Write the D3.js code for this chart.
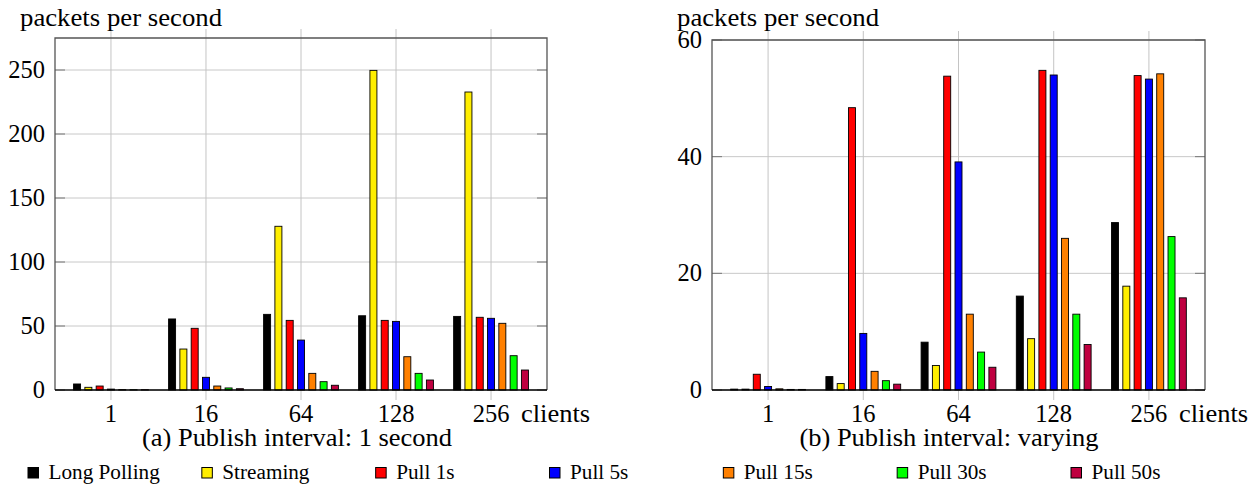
<!DOCTYPE html>
<html>
<head>
<meta charset="utf-8">
<script src="https://cdn.jsdelivr.net/npm/d3@7"></script>
<style>
  body { margin: 0; background: #fff; }
</style>
</head>
<body>
<svg id="chart" width="1259" height="485"></svg>
<script>
// categories and series
const groups = ['1', '16', '64', '128', '256'];
const seriesNames = ['Long Polling', 'Streaming', 'Pull 1s', 'Pull 5s', 'Pull 15s', 'Pull 30s', 'Pull 50s'];
const seriesColors = ['#000000', '#ffee00', '#ff0000', '#0000ff', '#ff8000', '#00ff00', '#bf0040'];

// (a) publish interval: 1 second
const longPollingA = [4.7, 55.5, 59.1, 58.0, 57.5];
const streamingA   = [2.1, 32.0, 127.9, 249.7, 232.8];
const pull1sA      = [3.1, 48.2, 54.4, 54.4, 56.8];
const pull5sA      = [0.7, 9.9, 39.0, 53.6, 56.0];
const pull15sA     = [0.3, 3.1, 13.0, 26.0, 52.1];
const pull30sA     = [0.2, 1.6, 6.5, 13.0, 26.8];
const pull50sA     = [0.2, 1.0, 3.7, 7.8, 15.6];

// (b) publish interval: varying
const longPollingB = [0.15, 2.3, 8.2, 16.1, 28.7];
const streamingB   = [0.15, 1.1, 4.2, 8.8, 17.8];
const pull1sB      = [2.7, 48.4, 53.8, 54.8, 53.9];
const pull5sB      = [0.6, 9.7, 39.1, 54.0, 53.3];
const pull15sB     = [0.2, 3.2, 13.0, 26.0, 54.2];
const pull30sB     = [0.1, 1.6, 6.5, 13.0, 26.3];
const pull50sB     = [0.1, 1.0, 3.9, 7.8, 15.8];

const ticksA = [0, 50, 100, 150, 200, 250];
const ticksB = [0, 20, 40, 60];

const FONT = '"Liberation Serif", "Times New Roman", serif';

const svg = d3.select('#chart');

// the original figure is a bit wider than tall, so widen the glyphs a little
function stretch(sel, k) {
    sel.style('font-family', FONT)
        .attr('fill', '#000');
    sel.each(function() {
        const len = this.getComputedTextLength();
        d3.select(this)
            .attr('textLength', len * k)
            .attr('lengthAdjust', 'spacingAndGlyphs');
    });
    return sel;
}

function drawPanel(opts) {
    const {left, right, top, bottom, yMax, yTicks, data, caption, captionX} = opts;
    const g = svg.append('g');

    const x = d3.scalePoint()
        .domain(groups)
        .range([left, right])
        .padding(0.589);

    const xInner = d3.scaleBand()
        .domain(seriesNames)
        .range([-37.4, 37.4])
        .paddingInner(0.38)
        .paddingOuter(0);

    const y = d3.scaleLinear()
        .domain([0, yMax])
        .range([bottom, top]);

    // horizontal grid
    g.selectAll('.hgrid')
        .data(yTicks)
        .enter().append('line')
        .attr('x1', left).attr('x2', right)
        .attr('y1', d => y(d)).attr('y2', d => y(d))
        .attr('stroke', '#c8c8c8')
        .attr('stroke-width', 1);

    // vertical grid + outside ticks top/bottom
    g.selectAll('.vgrid')
        .data(groups)
        .enter().append('line')
        .attr('x1', d => x(d)).attr('x2', d => x(d))
        .attr('y1', top - 9).attr('y2', bottom + 10)
        .attr('stroke', '#c4c4c4')
        .attr('stroke-width', 1);

    // y tick marks inside, both sides
    yTicks.forEach(t => {
        g.append('line')
            .attr('x1', left).attr('x2', left + 10)
            .attr('y1', y(t)).attr('y2', y(t))
            .attr('stroke', '#777').attr('stroke-width', 1);
        g.append('line')
            .attr('x1', right - 10).attr('x2', right)
            .attr('y1', y(t)).attr('y2', y(t))
            .attr('stroke', '#777').attr('stroke-width', 1);
    });

    // bars
    seriesNames.forEach((name, i) => {
        g.selectAll('.bar-' + i)
            .data(data[i])
            .enter().append('rect')
            .attr('x', (d, j) => x(groups[j]) + xInner(name))
            .attr('width', xInner.bandwidth())
            .attr('y', d => y(d))
            .attr('height', d => bottom - y(d))
            .attr('fill', seriesColors[i])
            .attr('stroke', '#000')
            .attr('stroke-width', 0.9);
    });

    // frame
    g.append('path')
        .attr('d', `M${left},${bottom}V${top}H${right}V${bottom}`)
        .attr('fill', 'none')
        .attr('stroke', '#555')
        .attr('stroke-width', 1.3);
    g.append('line')
        .attr('x1', left).attr('x2', right)
        .attr('y1', bottom).attr('y2', bottom)
        .attr('stroke', '#000')
        .attr('stroke-width', 1.6);

    // y tick labels
    stretch(g.selectAll('.ylab')
        .data(yTicks)
        .enter().append('text')
        .attr('x', left - 10)
        .attr('y', d => y(d) + 8)
        .attr('text-anchor', 'end')
        .style('font-size', '24.5px')
        .text(d => d), 1.0);

    // x tick labels
    stretch(g.selectAll('.xlab')
        .data(groups)
        .enter().append('text')
        .attr('x', d => x(d))
        .attr('y', bottom + 31.5)
        .attr('text-anchor', 'middle')
        .style('font-size', '24.5px')
        .text(d => d), 1.0);

    // axis label sits under the plot, just right of the last tick
    stretch(g.append('text')
        .attr('x', right - 26)
        .attr('y', bottom + 31.5)
        .style('font-size', '25px')
        .text('clients'), 1.06);

    stretch(g.append('text')
        .attr('x', left - 35)
        .attr('y', 26)
        .style('font-size', '25px')
        .text('packets per second'), 1.07);

    stretch(g.append('text')
        .attr('x', captionX)
        .attr('y', bottom + 56)
        .attr('text-anchor', 'middle')
        .style('font-size', '24.5px')
        .text(caption), 1.08);
}

drawPanel({
    left: 55, right: 547, top: 38, bottom: 390,
    yMax: 275, yTicks: ticksA,
    data: [longPollingA, streamingA, pull1sA, pull5sA, pull15sA, pull30sA, pull50sA],
    caption: '(a) Publish interval: 1 second', captionX: 297
});

drawPanel({
    left: 712, right: 1205, top: 40, bottom: 390,
    yMax: 60, yTicks: ticksB,
    data: [longPollingB, streamingB, pull1sB, pull5sB, pull15sB, pull30sB, pull50sB],
    caption: '(b) Publish interval: varying', captionX: 949
});

// legend along the bottom
const legendX = d3.scalePoint()
    .domain(seriesNames)
    .range([28, 1071]);

const legend = svg.append('g');

legend.selectAll('rect')
    .data(seriesNames)
    .enter().append('rect')
    .attr('x', d => legendX(d))
    .attr('y', 467.5)
    .attr('width', 10.5)
    .attr('height', 10.5)
    .attr('fill', (d, i) => seriesColors[i])
    .attr('stroke', '#000')
    .attr('stroke-width', 1);

stretch(legend.selectAll('text')
    .data(seriesNames)
    .enter().append('text')
    .attr('x', d => legendX(d) + 20.5)
    .attr('y', 478.5)
    .style('font-size', '20px')
    .text(d => d), 1.06);
</script>
</body>
</html>
